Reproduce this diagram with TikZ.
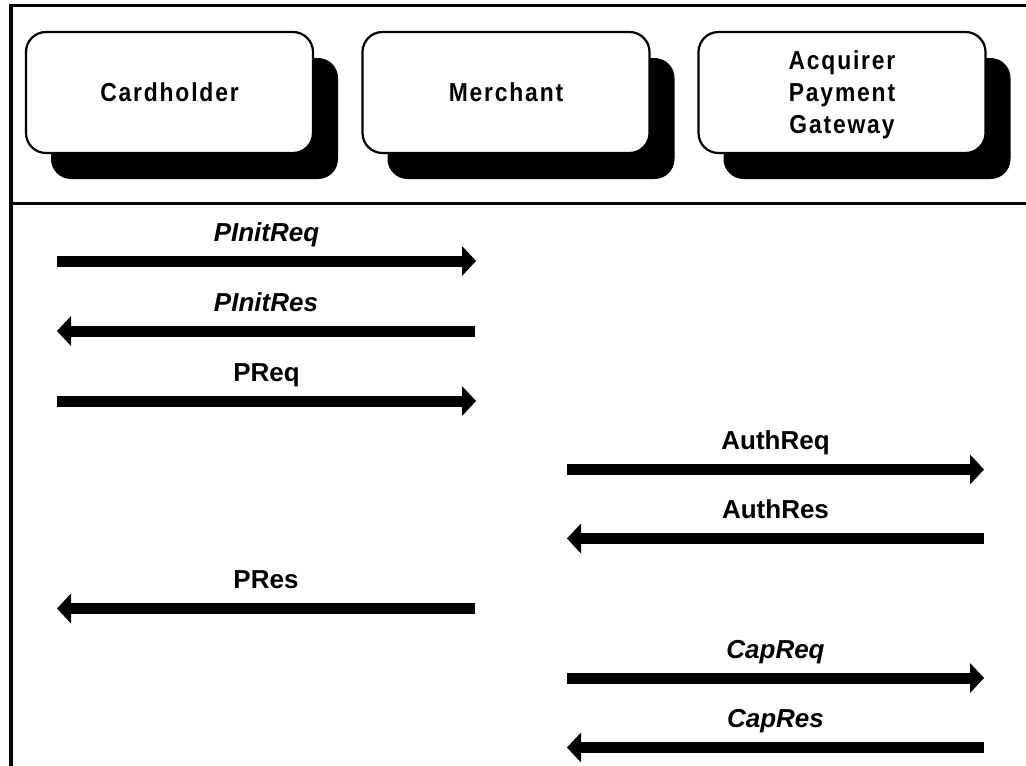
\documentclass[tikz,border=0pt]{standalone}
\usepackage{fontspec}
\setmainfont{Liberation Sans}
\newfontfamily\partyfont{Liberation Sans}[FakeStretch=0.88,LetterSpace=7]
\usetikzlibrary{arrows.meta,shadows}

\tikzset{
  frame/.style={line width=3.4pt, line join=miter},
  party/.style={draw, line width=2.2pt, fill=white, rounded corners=20pt,
    minimum width=287pt, minimum height=121pt, align=center, text depth=0pt,
    font=\partyfont\bfseries\fontsize{26}{32}\selectfont,
    general shadow={fill=black, shadow xshift=25pt, shadow yshift=-26pt}},
  msg/.style={line width=11pt,
    -{Triangle[length=14pt,width=30pt,line width=0pt]}},
  msglabel/.style={midway, anchor=base, yshift=20pt, inner sep=0pt,
    font=\bfseries\fontsize{26}{30}\selectfont},
  msglabelit/.style={msglabel, font=\bfseries\itshape\fontsize{26}{30}\selectfont}
}

\begin{document}
\begin{tikzpicture}[x=1pt,y=-1pt]
  \useasboundingbox (0,0) rectangle (1026,766);

  % outer frame and header separator
  \draw[frame] (1026,5.5) -- (11,5.5) -- (11,766);
  \draw[frame] (11,203.5) -- (1026,203.5);

  % parties
  \node[party] (ch) at (169.5,92.5) {Cardholder};
  \node[party] (me) at (506,92.5) {Merchant};
  \node[party] (pg) at (842,92.5) {Acquirer\\Payment\\Gateway};

  % message end points
  \coordinate (c1) at (57,261);    \coordinate (m1) at (476,261);
  \coordinate (c2) at (57,331);    \coordinate (m2) at (475,331);
  \coordinate (c3) at (57,401);    \coordinate (m3) at (476,401);
  \coordinate (m4) at (567,469.5); \coordinate (g4) at (984,469.5);
  \coordinate (m5) at (567,538.5); \coordinate (g5) at (984,538.5);
  \coordinate (c6) at (57,608.5);  \coordinate (m6) at (475,608.5);
  \coordinate (m7) at (567,678);   \coordinate (g7) at (984,678);
  \coordinate (m8) at (567,747.5); \coordinate (g8) at (984,747.5);

  % messages
  \draw[msg] (c1) -- node[msglabelit] {PInitReq} (m1);
  \draw[msg] (m2) -- node[msglabelit] {PInitRes} (c2);
  \draw[msg] (c3) -- node[msglabel] {PReq} (m3);
  \draw[msg] (m4) -- node[msglabel] {AuthReq} (g4);
  \draw[msg] (g5) -- node[msglabel] {AuthRes} (m5);
  \draw[msg] (m6) -- node[msglabel] {PRes} (c6);
  \draw[msg] (m7) -- node[msglabelit] {CapReq} (g7);
  \draw[msg] (g8) -- node[msglabelit] {CapRes} (m8);
\end{tikzpicture}
\end{document}
